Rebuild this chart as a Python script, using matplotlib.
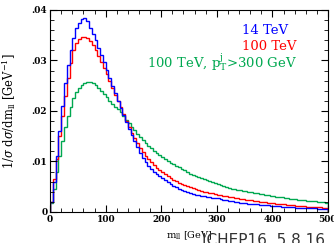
import numpy as np
from matplotlib import pyplot as plt
from matplotlib.ticker import MultipleLocator

# m_ll histogram, 5 GeV bins from 0 to 500
edges = np.arange(0, 505, 5)

tev14 = [0.0020, 0.0060, 0.0110, 0.0160, 0.0210, 0.0255, 0.0290, 0.0320, 0.0345, 0.0365,
         0.0375, 0.0382, 0.0385, 0.0378, 0.0365, 0.0352, 0.0340, 0.0325, 0.0310, 0.0296,
         0.0282, 0.0265, 0.0250, 0.0236, 0.0220, 0.0205, 0.0192, 0.0178, 0.0164, 0.0152,
         0.0140, 0.0128, 0.0117, 0.0107, 0.0098, 0.0091, 0.0085, 0.0080, 0.0075, 0.0071,
         0.0068, 0.0063, 0.0059, 0.0055, 0.0052, 0.0049, 0.0046, 0.0043, 0.0041, 0.0039,
         0.0037, 0.0036, 0.0034, 0.0033, 0.0032, 0.0031, 0.0030, 0.0029, 0.0028, 0.0028,
         0.0027, 0.0026, 0.0024, 0.0023, 0.0022, 0.0021, 0.0020, 0.0019, 0.0018, 0.0017,
         0.0017, 0.0016, 0.0016, 0.0015, 0.0015, 0.0014, 0.0014, 0.0013, 0.0013, 0.0012,
         0.0012, 0.0011, 0.0011, 0.0010, 0.0010, 0.0009, 0.0009, 0.0009, 0.0008, 0.0008,
         0.0008, 0.0008, 0.0007, 0.0007, 0.0007, 0.0007, 0.0006, 0.0006, 0.0006, 0.0006]

tev100 = [0.0020, 0.0065, 0.0105, 0.0150, 0.0190, 0.0230, 0.0265, 0.0295, 0.0320, 0.0335,
          0.0343, 0.0346, 0.0346, 0.0344, 0.0338, 0.0330, 0.0320, 0.0308, 0.0297, 0.0285,
          0.0273, 0.0260, 0.0245, 0.0232, 0.0220, 0.0207, 0.0194, 0.0181, 0.0169, 0.0157,
          0.0146, 0.0136, 0.0127, 0.0119, 0.0111, 0.0104, 0.0098, 0.0092, 0.0087, 0.0083,
          0.0079, 0.0075, 0.0071, 0.0067, 0.0064, 0.0061, 0.0058, 0.0055, 0.0053, 0.0051,
          0.0049, 0.0047, 0.0045, 0.0043, 0.0042, 0.0040, 0.0039, 0.0038, 0.0037, 0.0036,
          0.0034, 0.0033, 0.0032, 0.0031, 0.0030, 0.0029, 0.0028, 0.0027, 0.0026, 0.0025,
          0.0024, 0.0023, 0.0023, 0.0022, 0.0021, 0.0020, 0.0020, 0.0019, 0.0018, 0.0018,
          0.0017, 0.0016, 0.0016, 0.0015, 0.0015, 0.0014, 0.0013, 0.0013, 0.0012, 0.0012,
          0.0011, 0.0011, 0.0010, 0.0010, 0.0010, 0.0009, 0.0009, 0.0009, 0.0008, 0.0008]

tev100_ptcut = [0.0018, 0.0045, 0.0080, 0.0110, 0.0140, 0.0168, 0.0190, 0.0208, 0.0225, 0.0238,
                0.0246, 0.0252, 0.0255, 0.0257, 0.0257, 0.0255, 0.0251, 0.0246, 0.0240, 0.0234,
                0.0227, 0.0220, 0.0213, 0.0208, 0.0203, 0.0197, 0.0190, 0.0183, 0.0176, 0.0169,
                0.0162, 0.0155, 0.0149, 0.0143, 0.0137, 0.0131, 0.0126, 0.0121, 0.0116, 0.0112,
                0.0108, 0.0104, 0.0100, 0.0097, 0.0094, 0.0091, 0.0088, 0.0085, 0.0082, 0.0079,
                0.0076, 0.0074, 0.0071, 0.0069, 0.0067, 0.0065, 0.0063, 0.0061, 0.0059, 0.0057,
                0.0055, 0.0053, 0.0051, 0.0049, 0.0047, 0.0046, 0.0045, 0.0044, 0.0043, 0.0042,
                0.0041, 0.0040, 0.0039, 0.0038, 0.0037, 0.0036, 0.0035, 0.0034, 0.0033, 0.0032,
                0.0031, 0.0030, 0.0029, 0.0029, 0.0028, 0.0027, 0.0026, 0.0026, 0.0025, 0.0024,
                0.0024, 0.0023, 0.0022, 0.0022, 0.0021, 0.0021, 0.0020, 0.0020, 0.0019, 0.0018]

yticks = [0, 0.01, 0.02, 0.03, 0.04]
ytick_labels = ['0', '.01', '.02', '.03', '.04']

green = '#00a850'

plt.rcParams['font.family'] = 'DejaVu Serif'
plt.rcParams['mathtext.fontset'] = 'dejavuserif'

fig = plt.figure(figsize=(3.34, 2.43), dpi=100)
ax = fig.add_axes([0.150, 0.128, 0.832, 0.831])

ax.stairs(tev100_ptcut, edges, color=green, lw=1.0)
ax.stairs(tev100, edges, color='red', lw=1.0)
ax.stairs(tev14, edges, color='blue', lw=1.0)

ax.set_xlim(0, 500)
ax.set_ylim(0, 0.04)
ax.xaxis.set_major_locator(MultipleLocator(100))
ax.xaxis.set_minor_locator(MultipleLocator(20))
ax.set_yticks(yticks)
ax.set_yticklabels(ytick_labels)
ax.yaxis.set_minor_locator(MultipleLocator(0.002))
ax.tick_params(which='both', direction='in', top=True, right=True, labelsize=6.5, pad=2)
ax.tick_params(which='major', length=5, width=0.8)
ax.tick_params(which='minor', length=3, width=0.6)
for lab in ax.get_xticklabels() + ax.get_yticklabels():
    lab.set_fontweight('bold')

ax.set_xlabel(r'$\mathrm{m_{ll}}$ [GeV]', fontsize=7, x=0.50, labelpad=4)
ax.set_ylabel(r'$1/\sigma\ \mathrm{d}\sigma/\mathrm{dm_{ll}}\ [\mathrm{GeV}^{-1}]$', fontsize=8.3, labelpad=10)

ax.text(0.692, 0.90, '14 TeV', color='blue', fontsize=9.5, ha='left', va='center', transform=ax.transAxes)
ax.text(0.692, 0.817, '100 TeV', color='red', fontsize=9.5, ha='left', va='center', transform=ax.transAxes)
ax.text(0.89, 0.743, r'100 TeV, p$_\mathrm{T}^\mathrm{j}$>300 GeV', color=green, fontsize=9.5,
        ha='right', va='center', transform=ax.transAxes)

fig.text(0.605, -0.02, 'ICHEP16, 5.8.16', fontsize=11, family='DejaVu Sans', color='#333333',
         ha='left', va='bottom')

plt.savefig('out.png', dpi=100)
